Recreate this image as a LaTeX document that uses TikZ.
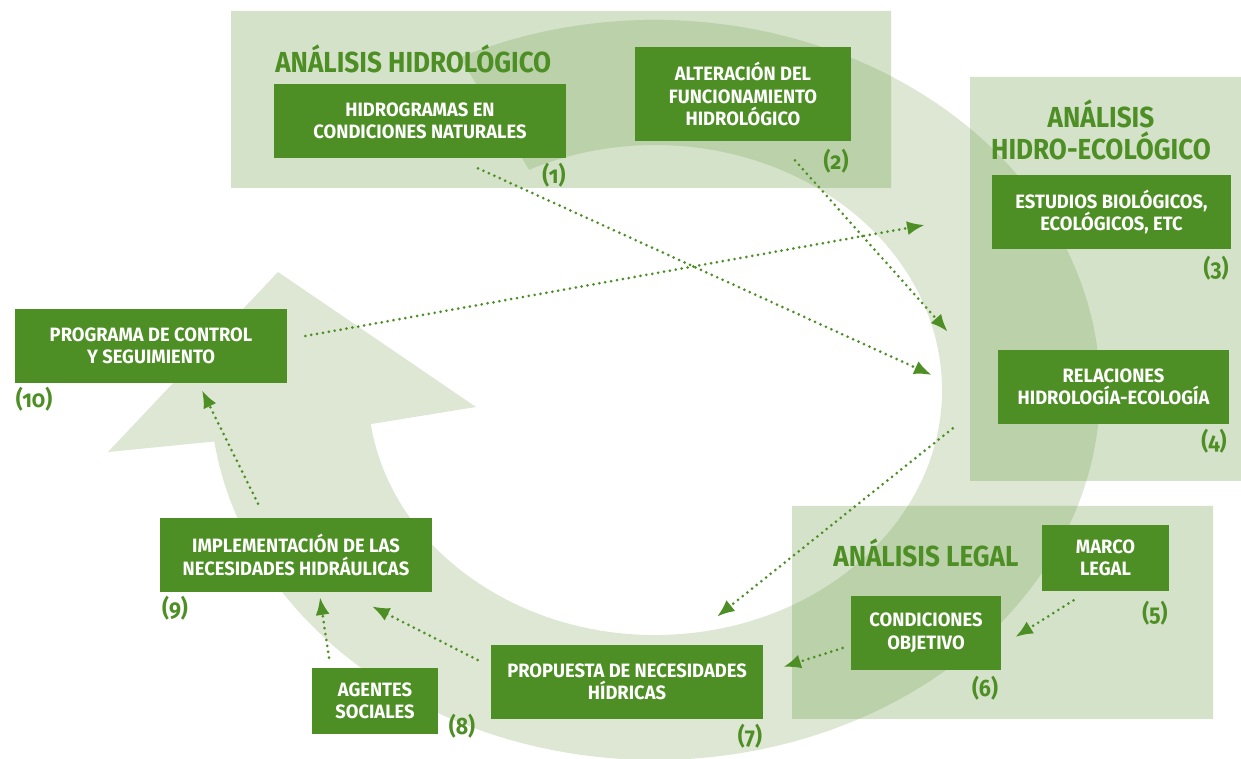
\documentclass[tikz,border=0pt]{standalone}
\usepackage{fontspec}
\setmainfont{Fira Sans}[FakeStretch=0.9, Numbers=OldStyle]
\newfontfamily\boxfamily{Fira Sans}[FakeStretch=0.95]
\usetikzlibrary{arrows.meta}

\definecolor{leaf}{RGB}{77,143,36}
\definecolor{ringgreen}{RGB}{221,231,211}
\definecolor{areagreen}{RGB}{212,226,201}
\definecolor{overlapgreen}{RGB}{187,209,169}

\newcommand\boxfont{\boxfamily\bfseries\fontsize{11}{12.8}\selectfont}
\newcommand\titlefont{\bfseries\fontsize{16.5}{18.2}\selectfont}
\newcommand\numfont{\bfseries\fontsize{13.5}{15}\selectfont}

% big circular arrow behind the boxes
\newcommand\ringshape{(655,390) ++(-116:445 and 370) arc[start angle=-116, end angle=172, x radius=445, y radius=370] -- (108,452) -- (278,272) -- (476,407) -- ([shift={(655,390)}]172:287 and 245) arc[start angle=172, end angle=-116, x radius=287, y radius=245] -- cycle}

\begin{document}
\begin{tikzpicture}[x=0.02cm, y=-0.02cm,
  box/.style={fill=leaf, text=white, font=\boxfont, align=center, inner sep=0pt, minimum height=1.48cm},
  title/.style={text=leaf, font=\titlefont, inner sep=0pt},
  num/.style={text=leaf, font=\numfont, inner sep=0pt},
  flow/.style={draw=leaf, line width=1.7pt, line cap=round, dash pattern=on 0pt off 3.4pt, -{Latex[length=10pt, width=8pt]}}]

  \useasboundingbox (0,0) rectangle (1241,759);

  % background
  \fill[ringgreen] \ringshape;
  \fill[areagreen] (231,11) rectangle (891,188) (970,77) rectangle (1241,481) (792,506) rectangle (1213,719);
  \begin{scope}
    \clip \ringshape;
    \fill[overlapgreen] (231,11) rectangle (891,188) (970,77) rectangle (1241,481) (792,506) rectangle (1213,719);
  \end{scope}

  \node[title, anchor=base west] (thid) at (275,73) {ANÁLISIS HIDROLÓGICO};
  \node[title, align=center] (teco) at (1101,130) {ANÁLISIS\\HIDRO-ECOLÓGICO};
  \node[title, anchor=base west] (tleg) at (833,567) {ANÁLISIS LEGAL};

  \node[box, minimum width=5.84cm] (hid) at (420,121) {HIDROGRAMAS EN\\CONDICIONES NATURALES};
  \node[box, minimum width=4.32cm, minimum height=1.88cm] (alt) at (743,94) {ALTERACIÓN DEL\\FUNCIONAMIENTO\\HIDROLÓGICO};
  \node[box, minimum width=4.78cm] (est) at (1111.5,212) {ESTUDIOS BIOLÓGICOS,\\ECOLÓGICOS, ETC};
  \node[box, minimum width=4.62cm] (rel) at (1113.5,387) {RELACIONES\\HIDROLOGÍA-ECOLOGÍA};
  \node[box, minimum width=2.54cm, minimum height=1.32cm] (mar) at (1105.5,558) {MARCO\\LEGAL};
  \node[box, minimum width=3cm] (cond) at (926,633) {CONDICIONES\\OBJETIVO};
  \node[box, minimum width=5.44cm] (prop) at (627,682) {PROPUESTA DE NECESIDADES\\HÍDRICAS};
  \node[box, minimum width=2.52cm, minimum height=1.32cm] (agen) at (375,701) {AGENTES\\SOCIALES};
  \node[box, minimum width=5.44cm] (impl) at (296,555) {IMPLEMENTACIÓN DE LAS\\NECESIDADES HIDRÁULICAS};
  \node[box, minimum width=5.44cm] (prog) at (151,346) {PROGRAMA DE CONTROL\\Y SEGUIMIENTO};

  \node[num] at (554,175) {(1)};
  \node[num] at (836,161) {(2)};
  \node[num] at (1216,268) {(3)};
  \node[num] at (1214,441) {(4)};
  \node[num] at (1155,613) {(5)};
  \node[num] at (985,688) {(6)};
  \node[num] at (750,736) {(7)};
  \node[num] at (462,726) {(8)};
  \node[num] at (175,608) {(9)};
  \node[num] at (34,399) {(10)};

  % Arrows
  \draw[flow] ([shift={(58,10)}]hid.south) -- ([shift={(-66,-12)}]rel.west);
  \draw[flow] ([shift={(52,19)}]alt.south) -- ([shift={(-50,-18)}]rel.north west);
  \draw[flow] ([shift={(18,-10)}]prog.east) -- ([shift={(-67,13)}]est.west);
  \draw[flow] ([shift={(-45,4)}]rel.south west) -- ([shift={(90,-28)}]prop.north);
  \draw[flow] ([shift={(-32,9)}]mar.south) -- ([shift={(14,4)}]cond.east);
  \draw[flow] ([shift={(-8,15)}]cond.west) -- ([shift={(20,-15)}]prop.east);
  \draw[flow] ([shift={(-13,-22)}]prop.west) -- ([shift={(76,14)}]impl.south);
  \draw[flow] ([shift={(-46,-10)}]agen.north) -- ([shift={(24,5)}]impl.south);
  \draw[flow] ([shift={(-38,-14)}]impl.north) -- ([shift={(51,7)}]prog.south);

\end{tikzpicture}
\end{document}
